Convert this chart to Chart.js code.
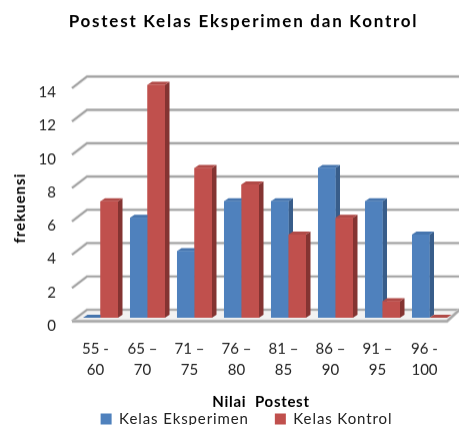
<!DOCTYPE html>
<html><head><meta charset="utf-8">
<style>html,body{margin:0;padding:0;background:#fff;overflow:hidden;width:459px;height:425px}
#w{width:487px;height:435.5px;position:relative}canvas{filter:blur(0.5px)}</style>
<script src="https://cdn.jsdelivr.net/npm/chart.js@4"></script></head><body>
<div id="w"><canvas id="c"></canvas></div>
<script>
const categories=[["55 -","60"],["65 –","70"],["71 –","75"],["76 –","80"],["81 –","85"],["86 –","90"],["91 –","95"],["96 -","100"]];
const kelasEksperimen=[0,6,4,7,7,9,7,5];
const kelasKontrol=[7,14,9,8,5,6,1,0];
const yTicks=[0,2,4,6,8,10,12,14];
const chartTitle="Postest Kelas Eksperimen dan Kontrol";
const xTitle="Nilai  Postest", yTitle="frekuensi";
const FONT="Lato";
const shade={ "#4F81BD":{side:"#385D8A",top:"#4675AE"}, "#C0504D":{side:"#843432",top:"#B04A47"} };
const DX=4.5,DY=3;
function line(ctx,pts,color,w){ctx.strokeStyle=color;ctx.lineWidth=w;ctx.beginPath();pts.forEach((p,i)=>i?ctx.lineTo(p[0],p[1]):ctx.moveTo(p[0],p[1]));ctx.stroke();}
function spaced(obj,name,ctx,sp,dx,dy){const o=obj[name];obj[name]=function(){ctx.save();ctx.letterSpacing=sp+"px";ctx.translate(dx,dy);const r=o.apply(this,arguments);ctx.restore();return r;};}
let wrapped=false;
const box3d={id:"box3d",
 beforeLayout(ch){if(wrapped)return;wrapped=true;const c=ch.ctx;
  spaced(ch.titleBlock,"draw",c,1.75,12,-1);
  spaced(ch.legend,"fit",c,0.9,0,0);
  spaced(ch.legend,"draw",c,0.9,15,0);
  spaced(ch.scales.x,"drawTitle",c,0.7,-4,25.5);
  spaced(ch.scales.y,"drawTitle",c,0.9,1,7);
 },
 beforeDatasetsDraw(ch){const c=ch.ctx,y=ch.scales.y,a=ch.chartArea;c.save();
  const L=a.left+10,R=a.right+6,S=15,D=11,B=8;
  const y0=y.getPixelForValue(0)-B+0.5;
  c.fillStyle="#F2F2F2";c.beginPath();c.moveTo(L,y0);c.lineTo(R,y0);c.lineTo(R-12,y0+D);c.lineTo(L-S,y0+D);c.closePath();c.fill();
  yTicks.forEach(v=>{const p=y.getPixelForValue(v)-B;
   line(c,[[L-S,p+D+.5],[L,p],[R,p]],"#D9D9D9",3.2);
   line(c,[[L-S,p+D+.5],[L,p],[R,p]],"#A0A0A0",1.6);});
  line(c,[[L-S,y0+D],[R-12,y0+D],[R,y0]],"#D0D0D0",3.4);
  line(c,[[L-S,y0+D],[R-12,y0+D],[R,y0]],"#A6A6A6",1.8);
  c.restore();},
 afterDatasetsDraw(ch){const c=ch.ctx;c.save();
  ch.data.datasets.forEach((ds,i)=>{const m=ch.getDatasetMeta(i),col=shade[ds.backgroundColor];
   m.data.forEach(b=>{const l=b.x-b.width/2,r=b.x+b.width/2,t=b.y,bt=b.base;
    c.fillStyle=col.side;c.beginPath();c.moveTo(r,t);c.lineTo(r+DX,t-DY);c.lineTo(r+DX,bt-DY);c.lineTo(r,bt);c.closePath();c.fill();
    c.fillStyle=col.top;c.beginPath();c.moveTo(l,t);c.lineTo(l+DX,t-DY);c.lineTo(r+DX,t-DY);c.lineTo(r,t);c.closePath();c.fill();
    b.draw(c);});});
  c.restore();}};
new Chart(document.getElementById("c"),{type:"bar",
 data:{labels:categories,datasets:[
  {label:"Kelas Eksperimen",data:kelasEksperimen,backgroundColor:"#4F81BD"},
  {label:"Kelas Kontrol",data:kelasKontrol,backgroundColor:"#C0504D"}]},
 plugins:[box3d],
 options:{responsive:true,maintainAspectRatio:false,animation:false,
  layout:{padding:{left:10,right:34,top:12,bottom:0}},
  datasets:{bar:{barPercentage:1,categoryPercentage:0.745}},
  plugins:{tooltip:{enabled:false},
   title:{display:true,text:chartTitle,color:"#000",font:{family:FONT,size:17,weight:"bold"},padding:{top:0,bottom:52}},
   legend:{position:"bottom",labels:{boxWidth:11,boxHeight:11,padding:26,color:"#222",font:{family:FONT,size:15}}}},
  scales:{
   x:{afterFit(s){s.height=67.5;},grid:{display:false,drawTicks:false},border:{display:false},
    ticks:{color:"#222",font:{family:FONT,size:15,lineHeight:1.45},padding:20,labelOffset:-5,maxRotation:0,autoSkip:false},
    title:{display:true,text:xTitle,color:"#000",font:{family:FONT,size:15,weight:"bold"},padding:{top:8,bottom:0}}},
   y:{min:0,max:14,afterBuildTicks(s){s.ticks=yTicks.map(v=>({value:v}));},afterFit(s){s.width=67;},
    grid:{display:false,drawTicks:false},border:{display:false},
    ticks:{color:"#222",font:{family:FONT,size:15},padding:21,labelOffset:8},
    title:{display:true,text:yTitle,color:"#000",font:{family:FONT,size:15,weight:"bold"},padding:{top:0,bottom:10}}}
  }}});
</script></body></html>
